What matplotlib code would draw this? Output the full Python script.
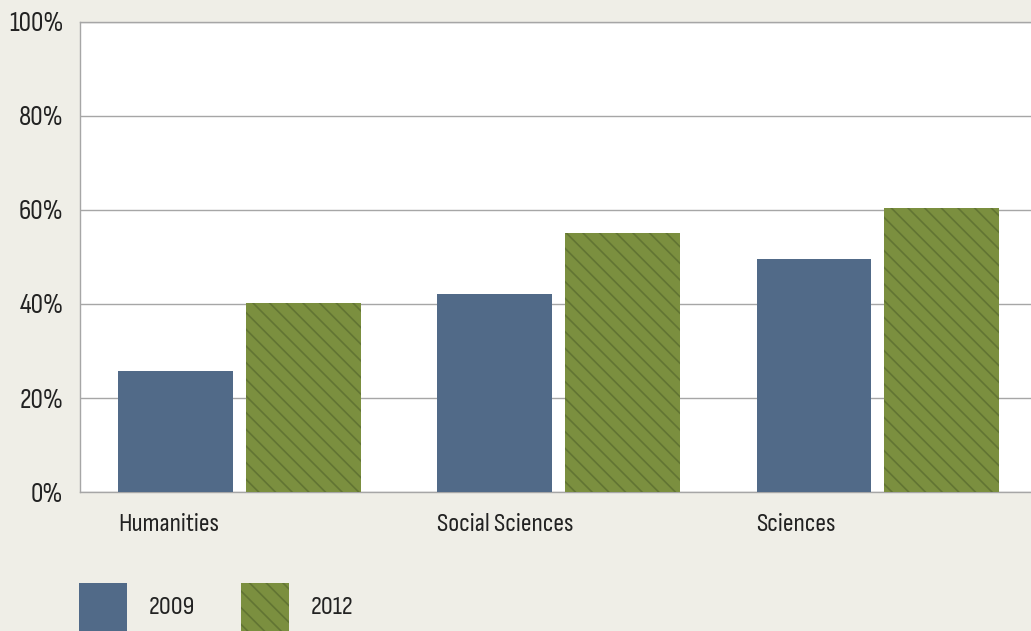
import matplotlib
matplotlib.use("Agg")
import matplotlib.pyplot as plt
from matplotlib.patches import Rectangle
import numpy as np

categories = ["Humanities", "Social Sciences", "Sciences"]
years = ["2009", "2012"]
vals_2009 = [25.7, 42.1, 49.6]
vals_2012 = [40.2, 55.1, 60.4]
yticks = [0, 20, 40, 60, 80, 100]

bg = "#efeee7"
blue = "#516a88"
green = "#7b8f3f"
hatch_col = "#627433"
txt = "#222222"

plt.rcParams["font.family"] = ["Sofia Sans Condensed", "Liberation Sans", "DejaVu Sans"]
plt.rcParams["hatch.linewidth"] = 1.2

fig = plt.figure(figsize=(10.31, 6.31), dpi=100, facecolor=bg)
ax = fig.add_axes([80 / 1031, 139 / 631, 951 / 1031, 470 / 631])
ax.set_facecolor("white")

x = np.arange(len(categories))
w = 0.36
ax.bar(x - 0.2, vals_2009, w, color=blue, linewidth=0, zorder=3)
ax.bar(x + 0.2, vals_2012, w, color=green, edgecolor=hatch_col, hatch="\\\\", linewidth=0, zorder=3)

ax.set_xlim(-0.5, 2.48)
ax.set_ylim(0, 100)
ax.set_yticks(yticks)
ax.set_yticklabels([f"{t}%" for t in yticks], fontsize=20, color=txt)
ax.yaxis.grid(True, color="#a6a6a6", linewidth=1, zorder=0)
ax.tick_params(axis="y", length=0, pad=12)

ax.set_xticks(x - 0.38)
ax.set_xticklabels(categories, fontsize=19, color=txt, ha="left")
ax.tick_params(axis="x", length=0, pad=15)

for s in ["left", "bottom", "top"]:
    ax.spines[s].set_color("#a6a6a6")
    ax.spines[s].set_linewidth(1)
ax.spines["right"].set_visible(False)

# legend drawn in figure pixels
W, H = 1031, 631
for left, col, hatch, label in [(79, blue, None, years[0]), (241, green, "\\\\", years[1])]:
    r = Rectangle((left / W, 0), 48 / W, 48 / H, transform=fig.transFigure,
                  facecolor=col, edgecolor=hatch_col if hatch else col,
                  hatch=hatch, linewidth=0)
    fig.patches.append(r)
    fig.text((left + 70) / W, 24 / H, label, fontsize=19, color=txt, va="center", ha="left")

fig.savefig("out.png", dpi=100, facecolor=bg)
